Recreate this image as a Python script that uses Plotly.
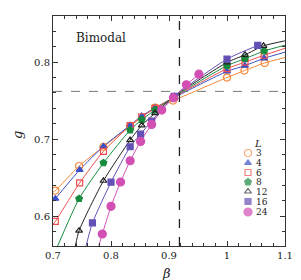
import plotly.graph_objects as go

# ---------------- data ----------------
sizes = ["3", "4", "6", "8", "12", "16", "24"]

beta_L3 = [0.704, 0.745, 0.787, 0.833, 0.876, 0.907, 1.0, 1.030, 1.065]
g_L3 = [0.633, 0.665, 0.690, 0.717, 0.741, 0.750, 0.780, 0.789, 0.799]

beta_L4 = [0.704, 0.746, 0.787, 0.833, 0.853, 0.876, 0.909, 1.0, 1.031, 1.064]
g_L4 = [0.6225, 0.660, 0.6905, 0.718, 0.730, 0.7406, 0.754, 0.788, 0.7955, 0.805]

beta_L6 = [0.704, 0.746, 0.787, 0.833, 0.853, 0.876, 0.909, 1.0, 1.031, 1.064]
g_L6 = [0.593, 0.643, 0.684, 0.7175, 0.729, 0.740, 0.7545, 0.7916, 0.800, 0.809]

beta_L8 = [0.745, 0.787, 0.833, 0.853, 0.876, 0.909, 1.0, 1.031, 1.064]
g_L8 = [0.6225, 0.669, 0.7117, 0.7253, 0.7377, 0.755, 0.7955, 0.8045, 0.8145]

beta_L12 = [0.745, 0.787, 0.833, 0.853, 0.876, 0.909, 1.0, 1.031, 1.063]
g_L12 = [0.581, 0.6458, 0.6987, 0.7178, 0.7338, 0.7555, 0.7996, 0.8095, 0.8212]

beta_L16 = [0.768, 0.800, 0.833, 0.851, 0.870, 0.909, 1.0, 1.053]
g_L16 = [0.591, 0.644, 0.690, 0.7065, 0.7234, 0.7555, 0.804, 0.8217]

beta_L24 = [0.785, 0.800, 0.8165, 0.833, 0.851, 0.870, 0.8875, 0.9076, 0.930, 0.9516]
g_L24 = [0.5766, 0.6126, 0.6442, 0.6718, 0.697, 0.7191, 0.7377, 0.7536, 0.7705, 0.7844]

# ends of the fitted curves (beta, g); None = curve stops at last point
curve_start = [(0.700, 0.631), (0.700, 0.619), (0.700, 0.589), (0.708, 0.561),
               (0.7385, 0.561), (0.757, 0.561), (0.779, 0.561)]
curve_end = [(1.1, 0.806), (1.1, 0.813), (1.1, 0.818), (1.1, 0.822),
             (1.1, 0.8277), None, None]

beta_c = 0.918
g_star = 0.762

x_ticks = [0.7, 0.8, 0.9, 1.0, 1.1]
x_ticklabels = ["0.7", "0.8", "0.9", "1", "1.1"]
y_ticks = [0.6, 0.7, 0.8]
y_ticklabels = ["0.6", "0.7", "0.8"]

# ---------------- styles ----------------
betas = [beta_L3, beta_L4, beta_L6, beta_L8, beta_L12, beta_L16, beta_L24]
gs = [g_L3, g_L4, g_L6, g_L8, g_L12, g_L16, g_L24]
colors = ["#f5883a", "#3a4ec6", "#f04e4e", "#178a3e", "#222222", "#6550b6", "#d24fb4"]
symbols = ["circle-open", "triangle-up", "square-open", "pentagon",
           "triangle-up-open", "square", "circle"]
msizes = [7, 6, 6, 7, 6, 6, 8]
leg_sizes = [7, 6, 6, 7, 6, 6, 8]

SERIF = "DejaVu Serif"
W, H = 301, 280
L, R, T, B = 45, 24, 8, 42

fig = go.Figure()

for i in range(len(sizes)):
    cx = [curve_start[i][0]] + betas[i]
    cy = [curve_start[i][1]] + gs[i]
    if curve_end[i] is not None:
        cx = cx + [curve_end[i][0]]
        cy = cy + [curve_end[i][1]]
    fig.add_trace(go.Scatter(x=cx, y=cy, mode="lines",
                             line=dict(color=colors[i], width=1, shape="spline", smoothing=0.6),
                             showlegend=False, hoverinfo="skip"))

for i in range(len(sizes)):
    fig.add_trace(go.Scatter(x=betas[i], y=gs[i], mode="markers",
                             marker=dict(symbol=symbols[i], color=colors[i], size=msizes[i],
                                         line=dict(color=colors[i], width=1.2)),
                             showlegend=False))

# dashed guide lines
fig.add_shape(type="line", xref="x", yref="paper", x0=beta_c, x1=beta_c, y0=0, y1=1,
              line=dict(color="#222222", width=1.3, dash="dash"))
fig.add_shape(type="line", xref="paper", yref="y", x0=0, x1=1, y0=g_star, y1=g_star,
              line=dict(color="#777777", width=1, dash="dash"))

# manual legend on an overlay axis (pixel units of the plot area)
leg_rows = [145, 155, 164.5, 174, 183.5, 193.5, 204]
fig.add_trace(go.Scatter(x=[240] * len(sizes), y=leg_rows, mode="markers",
                         xaxis="x2", yaxis="y2",
                         marker=dict(symbol=symbols, color=colors, size=leg_sizes,
                                     line=dict(color=colors, width=1.2)),
                         showlegend=False, hoverinfo="skip"))
for i, s in enumerate(sizes):
    fig.add_annotation(x=245.5, y=leg_rows[i], xref="x2", yref="y2", text=s,
                       showarrow=False, xanchor="left", yanchor="middle",
                       font=dict(family=SERIF, size=9, color="#222222"))
fig.add_annotation(x=250, y=135, xref="x2", yref="y2", text="<i>L</i>",
                   showarrow=False, xanchor="center", yanchor="middle",
                   font=dict(family=SERIF, size=10, color="#222222"))

# texts
fig.add_annotation(x=(66 - L) / (W - L - R), y=(H - B - 30) / (H - B - T), xref="paper", yref="paper",
                   text="Bimodal", showarrow=False, xanchor="left", yanchor="middle",
                   font=dict(family=SERIF, size=12, color="#222222"))
fig.add_annotation(x=(9 - L) / (W - L - R), y=(H - B - 127) / (H - B - T), xref="paper", yref="paper",
                   text="<i>g</i>", textangle=-90, showarrow=False,
                   xanchor="center", yanchor="middle",
                   font=dict(family=SERIF, size=13, color="#222222"))
fig.add_annotation(x=(158 - L) / (W - L - R), y=(H - B - 265) / (H - B - T), xref="paper", yref="paper",
                   text="<i>β</i>", showarrow=False, xanchor="center", yanchor="middle",
                   font=dict(family=SERIF, size=13, color="#222222"))

axis_common = dict(showgrid=False, zeroline=False, showline=True, linecolor="#333333",
                   linewidth=1, mirror="allticks", ticks="inside", ticklen=5,
                   tickcolor="#333333", tickwidth=1,
                   tickfont=dict(family=SERIF, size=10, color="#222222"))

fig.update_layout(
    width=W, height=H,
    margin=dict(l=L, r=R, t=T, b=B),
    plot_bgcolor="white", paper_bgcolor="white",
    xaxis=dict(range=[0.7, 1.1], tickvals=x_ticks, ticktext=x_ticklabels,
               minor=dict(dtick=0.02, tick0=0.7, ticks="inside", ticklen=3,
                          tickcolor="#333333"),
               **axis_common),
    yaxis=dict(range=[0.561, 0.86], tickvals=y_ticks, ticktext=y_ticklabels,
               minor=dict(dtick=0.02, tick0=0.6, ticks="inside", ticklen=3,
                          tickcolor="#333333"),
               **axis_common),
    xaxis2=dict(range=[L, W - R], overlaying="x", visible=False, fixedrange=True),
    yaxis2=dict(range=[H - B, T], overlaying="y", visible=False, fixedrange=True),
    showlegend=False,
)

fig.write_html("out.html")
